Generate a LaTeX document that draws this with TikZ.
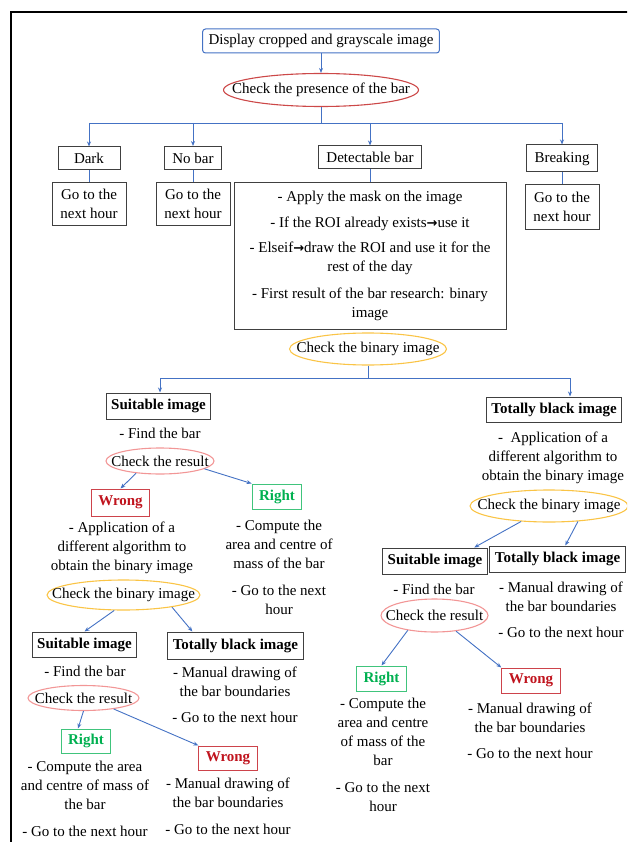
\documentclass[tikz,border=0pt]{standalone}
\usepackage{fontspec}
\setmainfont{Liberation Serif}
\newfontfamily\arrowfont{DejaVu Sans}
\usetikzlibrary{shapes.geometric,calc,arrows.meta}
\definecolor{lineblue}{RGB}{68,114,196}
\definecolor{boxgray}{RGB}{64,64,64}
\definecolor{ellred}{RGB}{204,72,72}
\definecolor{ellgold}{RGB}{250,196,70}
\definecolor{ellpink}{RGB}{242,150,150}
\definecolor{wrongred}{RGB}{192,20,30}
\definecolor{rightgreen}{RGB}{0,176,80}
\newcommand{\gonext}{Go to the\\next hour}
\newcommand{\thenarrow}{{\arrowfont\bfseries\fontsize{13}{19}\selectfont →}}
\tikzset{
  arr/.style={draw=lineblue,line width=0.9pt,-{Stealth[length=5pt,width=4pt]}},
  conn/.style={draw=lineblue,line width=0.9pt},
  catbox/.style={draw=boxgray,line width=1pt,minimum height=23pt,inner xsep=8pt,inner ysep=0pt},
  gobox/.style={draw=boxgray,line width=1pt,align=center,minimum width=74pt,minimum height=43pt,inner sep=0pt},
  boldbox/.style={draw=boxgray,line width=1pt,font=\bfseries,minimum height=26pt,inner xsep=5pt,inner ysep=0pt},
  wrongbox/.style={draw=wrongred!80,line width=1pt,text=wrongred,font=\bfseries,minimum height=25pt,inner xsep=7pt,inner ysep=0pt},
  rightbox/.style={draw=rightgreen!75,line width=1pt,text=rightgreen,font=\bfseries,minimum height=24pt,inner xsep=7pt,inner ysep=0pt},
  oval/.style={ellipse,line width=1.1pt,inner xsep=-30pt,inner ysep=-6pt},
  txt/.style={align=center,inner sep=0pt}
}
\begin{document}
\fontsize{15}{19}\selectfont
\begin{tikzpicture}[x=1pt,y=-1pt]
\useasboundingbox (0,0) rectangle (627,842);
\clip (0,0) rectangle (627,842);
\draw[line width=2.5pt] (11,850) -- (11,12) -- (640,12);

\node[draw=lineblue,line width=1pt,rounded corners=3pt,inner xsep=6pt,inner ysep=0pt,minimum height=24pt] (disp) at (321,41) {Display cropped and grayscale image};
\node[oval,draw=ellred,minimum width=195pt,minimum height=33pt] (pres) at (321,90) {Check the presence of the bar};

\node[catbox,minimum width=62pt] (dark) at (89,158.5) {Dark};
\node[catbox] (nobar) at (193,158) {No bar};
\node[catbox] (det) at (370,157.5) {Detectable bar};
\node[catbox,minimum height=27pt] (brk) at (562,158.5) {Breaking};
\node[gobox] (go1) at (89,204) {\gonext};
\node[gobox] (go2) at (193,204) {\gonext};
\node[gobox,minimum height=44pt] (go3) at (562,207) {\gonext};
\node[draw=boxgray,line width=1pt,align=center,minimum width=272pt,minimum height=146pt,inner sep=0pt] (mask) at (370,256) {- Apply the mask on the image\\[7pt]
  - If the ROI already exists\thenarrow use it\\[6pt]
  - Elseif\thenarrow draw the ROI and use it for the\\rest of the day\\[8pt]
  - First result of the bar research: binary\\image};

\node[oval,draw=ellgold,minimum width=157pt,minimum height=32pt] (chk2) at (368,349) {Check the binary image};

\node[boldbox] (suit1) at (158.5,406) {Suitable image};
\node[boldbox,minimum height=25pt] (tblack1) at (554,409.5) {Totally black image};
\node[txt] (find1) at (160,433) {- Find the bar};
\node[oval,draw=ellpink,minimum width=108pt,minimum height=26pt] (res1) at (160,461) {Check the result};
\node[wrongbox,minimum height=27pt] (wrong1) at (120.5,502.5) {Wrong};
\node[rightbox,minimum height=25pt] (right1) at (277,496.5) {Right};
\node[txt] (alg1) at (122,548) {- Application of a\\different algorithm to\\obtain the binary image};
\node[txt] (comp1) at (279,567) {- Compute the\\area and centre of\\mass of the bar\\[8pt]- Go to the next\\hour};
\node[oval,draw=ellgold,minimum width=153pt,minimum height=30pt] (chk3) at (123.5,595) {Check the binary image};

\node[boldbox,minimum height=25pt] (suit2) at (84.5,644.5) {Suitable image};
\node[boldbox,minimum height=27pt] (tblack2) at (235.5,645.5) {Totally black image};
\node[txt] (find2) at (85,671) {- Find the bar};
\node[txt] (man2) at (235,694.5) {- Manual drawing of\\the bar boundaries\\[7pt]- Go to the next hour};
\node[oval,draw=ellpink,minimum width=111pt,minimum height=25pt] (res2) at (83.5,698) {Check the result};
\node[rightbox] (right2) at (86,741) {Right};
\node[wrongbox,minimum height=24pt] (wrong2) at (228,758) {Wrong};
\node[txt] (comp2) at (85,798.5) {- Compute the area\\and centre of mass of\\the bar\\[8pt]- Go to the next hour};
\node[txt] (man3) at (228,806.5) {- Manual drawing of\\the bar boundaries\\[8pt]- Go to the next hour};

\node[txt] (alg2) at (553,457.5) {-\ \ Application of a\\different algorithm to\\obtain the binary image};
\node[oval,draw=ellgold,minimum width=158pt,minimum height=32pt] (chk4) at (549,506) {Check the binary image};
\node[boldbox] (suit3) at (435,561) {Suitable image};
\node[boldbox] (tblack3) at (557.5,559) {Totally black image};
\node[txt] (find3) at (434,589) {- Find the bar};
\node[txt] (man4) at (561,610) {- Manual drawing of\\the bar boundaries\\[7pt]- Go to the next hour};
\node[oval,draw=ellpink,minimum width=107pt,minimum height=33pt] (res3) at (434.5,615.5) {Check the result};
\node[rightbox,minimum height=25pt] (right3) at (381.5,678.5) {Right};
\node[wrongbox] (wrong3) at (531,680.5) {Wrong};
\node[txt] (comp3) at (383,754.5) {- Compute the\\area and centre\\of mass of the\\bar\\[8pt]- Go to the next\\hour};
\node[txt] (man5) at (530,730.5) {- Manual drawing of\\the bar boundaries\\[7pt]- Go to the next hour};

\draw[arr] (disp) -- (pres);
\coordinate (s1) at (321,123);
\draw[conn] (pres) -- (s1);
\draw[conn] (dark |- s1) -- (brk |- s1);
\foreach \n in {dark,nobar,det,brk}
  \draw[arr] (s1 -| \n) -- (\n);
\foreach \a/\b in {dark/go1,nobar/go2,det/mask,brk/go3}
  \draw[conn] (\a) -- (\b);

\coordinate (s2) at (368,378);
\coordinate (bl) at (160,378);
\coordinate (br) at (570,378);
\draw[conn] (chk2) -- (s2);
\draw[conn] (bl) -- (br);
\draw[arr] (bl) -- (bl |- suit1.north);
\draw[arr] (br) -- (br |- tblack1.north);

\draw[arr] (res1.207) -- (wrong1.north);
\draw[arr] (res1.350) -- (right1.north west);
\draw[arr] (chk3.239) -- (suit2.north);
\draw[arr] (chk3.346) -- (tblack2.162);
\draw[arr] (res2.south) -- ([xshift=-8pt]right2.north);
\draw[arr] (res2.340) -- (wrong2.north west);
\draw[arr] (chk4.209) -- (suit3.19);
\draw[arr] (chk4.332) -- (tblack3.60);
\draw[arr] (res3.209) -- (right3.north);
\draw[arr] (res3.324) -- (wrong3.north west);
\end{tikzpicture}
\end{document}
